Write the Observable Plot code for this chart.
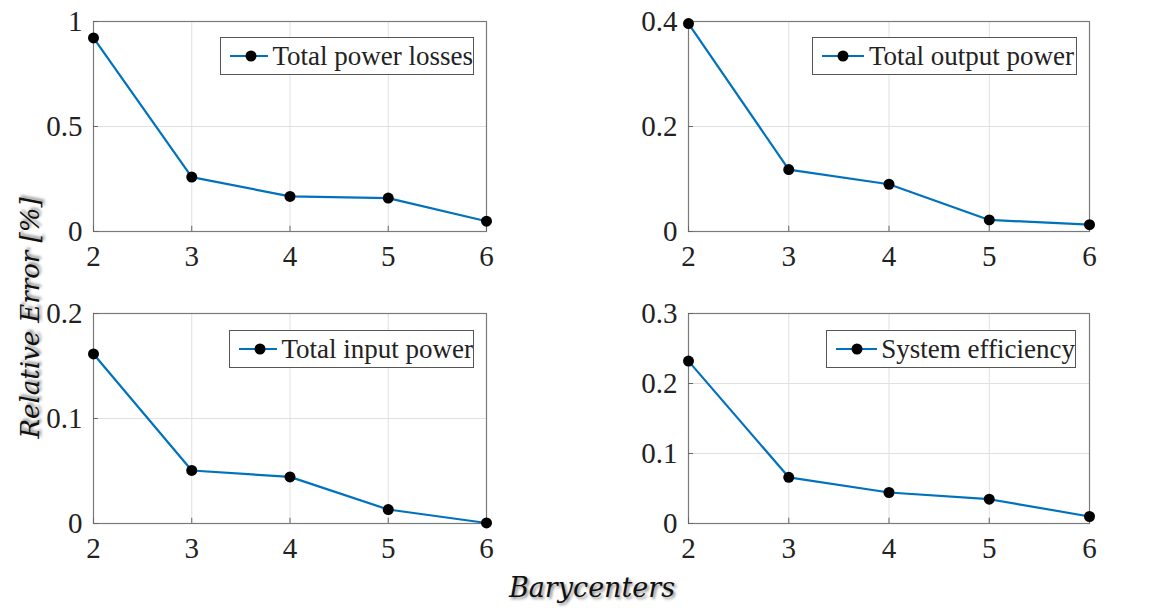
<!DOCTYPE html>
<html>
<head>
<meta charset="utf-8">
<script src="https://cdn.jsdelivr.net/npm/d3@7"></script>
<script src="https://cdn.jsdelivr.net/npm/@observablehq/plot@0.6"></script>
<style>
  html, body { margin: 0; padding: 0; background: #fff; }
  #root { position: relative; width: 1166px; height: 608px; overflow: hidden; }
  .panel { position: absolute; }
  .panel svg, .panel svg text { font-family: "Liberation Serif", "Times New Roman", serif !important; }
  .legend { position: absolute; box-sizing: border-box; height: 38px; border: 1px solid #555; background: #fff;
            display: flex; align-items: center; font-family: "Liberation Serif", "Times New Roman", serif; font-size: 27px; color: #222; white-space: nowrap; }
  .legend svg { margin: 0 4px 0 8px; }
  .ylab { position: absolute; left: 30px; top: 318px; transform: translate(-50%, -50%) rotate(-90deg);
          font-family: "DejaVu Serif", serif; font-style: italic; font-size: 26px; color: #111; white-space: nowrap;
          text-shadow: 2px 2px 3px rgba(0,0,0,0.45); }
  .xlab { position: absolute; left: 592px; top: 587px; transform: translate(-50%, -50%);
          font-family: "DejaVu Serif", serif; font-style: italic; font-size: 27px; color: #111; white-space: nowrap;
          text-shadow: 2px 2px 3px rgba(0,0,0,0.45); }
</style>
</head>
<body>
<div id="root"></div>
<script>
// Data
const barycenters = [2, 3, 4, 5, 6];
const totalPowerLosses = [0.922, 0.259, 0.167, 0.159, 0.049];
const totalOutputPower = [0.396, 0.118, 0.090, 0.022, 0.013];
const totalInputPower = [0.1615, 0.0505, 0.0444, 0.0133, 0.0005];
const systemEfficiency = [0.232, 0.066, 0.0443, 0.0347, 0.010];
const seriesNames = ["Total power losses", "Total output power", "Total input power", "System efficiency"];
const yTicks = [[0, 0.5, 1], [0, 0.2, 0.4], [0, 0.1, 0.2], [0, 0.1, 0.2, 0.3]];
const yDomains = [[0, 1], [0, 0.4], [0, 0.2], [0, 0.3]];
const xLabel = "Barycenters";
const yLabel = "Relative Error [%]";

const seriesValues = [totalPowerLosses, totalOutputPower, totalInputPower, systemEfficiency];
const blue = "#0072BD";

const layouts = [
  {left: 0,   top: 0,   width: 583, height: 292, mL: 93,  mR: 97, mT: 21, mB: 61},
  {left: 583, top: 0,   width: 583, height: 292, mL: 105, mR: 77, mT: 21, mB: 61},
  {left: 0,   top: 292, width: 583, height: 290, mL: 93,  mR: 97, mT: 21, mB: 59},
  {left: 583, top: 292, width: 583, height: 290, mL: 105, mR: 77, mT: 21, mB: 59}
];
const legendBoxes = [
  {right: 12, top: 16, width: 254},
  {right: 12, top: 16, width: 265},
  {right: 12, top: 17, width: 245},
  {right: 13, top: 17, width: 250}
];

const root = document.getElementById("root");

seriesValues.forEach((vals, i) => {
  const L = layouts[i];
  const [y0, y1] = yDomains[i];
  const data = barycenters.map((b, k) => ({x: b, y: vals[k]}));
  const chart = Plot.plot({
    width: L.width,
    height: L.height,
    marginLeft: L.mL,
    marginRight: L.mR,
    marginTop: L.mT,
    marginBottom: L.mB,
    style: {fontFamily: "'Liberation Serif', 'Times New Roman', serif", fontSize: "29px", color: "#222", background: "transparent", overflow: "visible"},
    x: {domain: [2, 6], ticks: barycenters, tickFormat: d => `${d}`, label: null},
    y: {domain: yDomains[i], ticks: yTicks[i], tickFormat: d => `${d}`, label: null},
    marks: [
      Plot.gridX(barycenters, {stroke: "#e0e0e0", strokeOpacity: 1, strokeWidth: 1}),
      Plot.gridY(yTicks[i], {stroke: "#e0e0e0", strokeOpacity: 1, strokeWidth: 1}),
      Plot.frame({stroke: "#7a7a7a", strokeWidth: 1.2}),
      Plot.axisX(barycenters, {tickSize: 0, tickPadding: 14, tickFormat: d => `${d}`, fill: "#222"}),
      Plot.axisY(yTicks[i], {tickSize: 0, tickPadding: 11, tickFormat: d => `${d}`, fill: "#222"}),
      Plot.ruleX(barycenters, {x: d => d, y1: y0, y2: y0 + (y1 - y0) * 0.025, stroke: "#666"}),
      Plot.ruleY(yTicks[i], {y: d => d, x1: 2, x2: 2.05, stroke: "#666"}),
      Plot.line(data, {x: "x", y: "y", stroke: blue, strokeWidth: 2.2}),
      Plot.dot(data, {x: "x", y: "y", r: 5.5, fill: "#000", stroke: "none"})
    ]
  });
  const wrap = document.createElement("div");
  wrap.className = "panel";
  wrap.style.left = L.left + "px";
  wrap.style.top = L.top + "px";
  wrap.appendChild(chart);
  root.appendChild(wrap);

  const B = legendBoxes[i];
  const frameRight = L.left + L.width - L.mR;
  const frameTop = L.top + L.mT;
  const lg = document.createElement("div");
  lg.className = "legend";
  lg.style.left = (frameRight - B.right - B.width) + "px";
  lg.style.top = (frameTop + B.top) + "px";
  lg.style.width = B.width + "px";
  lg.innerHTML = `<svg width="44" height="14"><line x1="1" y1="7" x2="43" y2="7" stroke="${blue}" stroke-width="2.2"/><circle cx="22" cy="7" r="5.5" fill="#000"/></svg><span>${seriesNames[i]}</span>`;
  root.appendChild(lg);
});

const yl = document.createElement("div");
yl.className = "ylab";
yl.textContent = yLabel;
root.appendChild(yl);
const xl = document.createElement("div");
xl.className = "xlab";
xl.textContent = xLabel;
root.appendChild(xl);
</script>
</body>
</html>
